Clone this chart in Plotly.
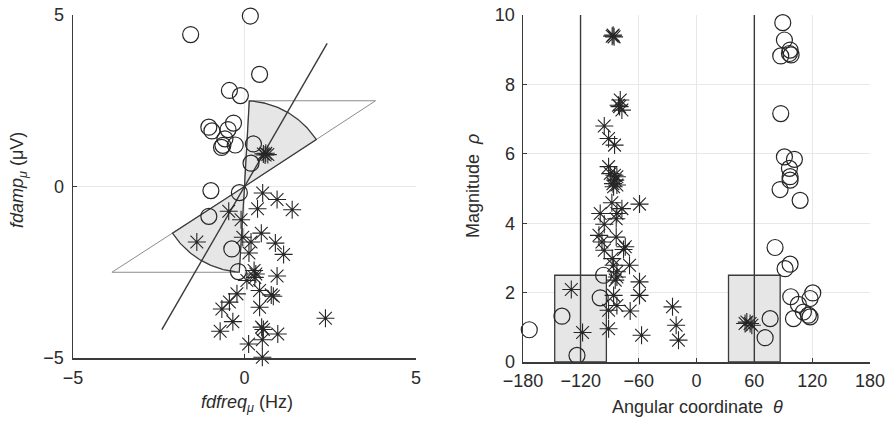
import numpy as np
import plotly.graph_objects as go

# ---------------- data ----------------
# Left panel: cartesian features (fdfreq, fdamp)
circ_x = [0.17, -1.57, 0.44, -0.44, -0.12, -1.04, -0.95, -0.32, -0.48, -0.57,
          -0.63, -0.67, -0.27, 0.26, 0.19, -0.98, -0.15, -1.04, -0.37, -0.18]
circ_y = [4.97, 4.43, 3.27, 2.80, 2.65, 1.73, 1.62, 1.85, 1.66, 1.39,
          1.20, 1.14, 1.21, 1.24, 0.68, -0.12, -0.18, -0.87, -1.82, -2.48]

star_x = [0.62, 0.60, 0.55, 0.68,
          0.53, 0.95, 1.39, 0.38, -0.46, -0.10, 0.49, -1.39, -0.05, 0.19,
          0.90, 0.13, 1.14, 0.28, 0.33, 0.30, 0.95, 0.07, -0.22, 0.44,
          0.78, 0.84, -0.44, -0.66, 0.44, 2.36, -0.34, -0.71, 0.50, 0.55,
          0.97, 0.12, 0.52, 0.52]
star_y = [0.97, 0.92, 0.95, 0.93,
          -0.19, -0.38, -0.68, -0.65, -0.72, -0.97, -1.36, -1.62, -1.48, -1.62,
          -1.65, -1.94, -1.98, -2.45, -2.55, -2.65, -2.61, -2.74, -3.13, -3.03,
          -3.16, -3.20, -3.37, -3.57, -3.52, -3.84, -3.94, -4.22, -4.10, -4.17,
          -4.30, -4.59, -4.47, -4.98]

# Right panel: polar features (theta in degrees, rho)
circ_theta = [89.5, 91.2, 97.1, 96.4, 87.4, 98.1, 87.4, 91.2, 101.6, 96.4,
              97.1, 97.1, 86.7, 107.5, 81.5, 97.1, 91.9, 97.8, 120.6, 117.8,
              105.7, 110.9, 116.1, 117.8, 100.6, 76.4, 71.2, -96.4, -99.9, -139.6,
              -173.5, -124.0]
circ_rho = [9.78, 9.28, 8.99, 8.89, 8.82, 8.85, 7.16, 5.91, 5.84, 5.58,
            5.34, 5.24, 4.97, 4.66, 3.30, 2.82, 2.69, 1.88, 1.99, 1.83,
            1.66, 1.44, 1.35, 1.30, 1.25, 1.25, 0.70, 2.50, 1.85, 1.32,
            0.93, 0.19]

star_theta = [-87.5, -85.5, -86.5, -79.1, -80.9, -77.4, -79.8, -95.7, -91.2, -85.0,
              -91.2, -89.5, -85.1, -82.6, -84.3, -86.7, -82.6, -86.0, -87.8, -59.1,
              -77.4, -82.6, -99.9, -83.3, -95.7, -101.2, -98.1, -83.3, -73.9, -75.7,
              -95.7, -87.4, -69.5, -86.0, -82.6, -82.6, -84.3, -59.1, -59.1, -86.0,
              -82.6, -91.2, -68.8, -91.2, -129.9, -118.2, -57.0, -24.9, -21.1, -18.7,
              52.2, 55.6, 57.4, 50.4]
star_rho = [9.39, 9.37, 9.42, 7.55, 7.40, 7.26, 7.36, 6.80, 6.44, 6.25,
            5.63, 5.43, 5.38, 5.34, 5.24, 5.14, 5.10, 5.05, 4.59, 4.55,
            4.42, 4.28, 4.28, 4.13, 3.97, 3.65, 3.46, 3.60, 3.32, 3.24,
            3.22, 2.98, 2.79, 2.79, 2.60, 2.45, 2.36, 2.31, 1.92, 1.92,
            1.63, 1.49, 1.47, 0.96, 2.09, 0.85, 0.77, 1.59, 1.06, 0.63,
            1.15, 1.11, 1.06, 1.11]

# Sector (class) parameters
sector_mean = [60.0, -120.3]     # degrees
sector_half = [26.8, 26.8]       # degrees
sector_radius = 2.5
mean_line_len = 4.82

x_ticks_left = [-5, 0, 5]
y_ticks_left = [-5, 0, 5]
x_ticks_right = [-180, -120, -60, 0, 60, 120, 180]
y_ticks_right = [0, 2, 4, 6, 8, 10]

# ---------------- styles ----------------
DARK = "#3a3a3a"
MARK = "#262626"
FILL = "#e6e6e6"
TRI = "#8c8c8c"
GRID = "#e8e8e8"
FONT = "Arial, Liberation Sans, sans-serif"
FS = 18

fig = go.Figure()

# ---- left panel: triangles, sectors, mean line ----
for m, h in zip(sector_mean, sector_half):
    a1, a2 = np.radians(m - h), np.radians(m + h)
    level = sector_radius * np.sign(np.sin(np.radians(m)))
    p1 = (level / np.tan(a1), level)
    p2 = (level / np.tan(a2), level)
    fig.add_trace(go.Scatter(x=[0, p1[0], p2[0], 0], y=[0, p1[1], p2[1], 0],
                             mode="lines", line=dict(color=TRI, width=1),
                             xaxis="x", yaxis="y", hoverinfo="skip"))
    ang = np.linspace(a1, a2, 60)
    sx = np.concatenate([[0], sector_radius * np.cos(ang), [0]])
    sy = np.concatenate([[0], sector_radius * np.sin(ang), [0]])
    fig.add_trace(go.Scatter(x=sx, y=sy, mode="lines", fill="toself",
                             fillcolor=FILL, line=dict(color=DARK, width=1.3),
                             xaxis="x", yaxis="y", hoverinfo="skip"))

mr = np.radians(sector_mean[0])
fig.add_trace(go.Scatter(x=[-mean_line_len * np.cos(mr), mean_line_len * np.cos(mr)],
                         y=[-mean_line_len * np.sin(mr), mean_line_len * np.sin(mr)],
                         mode="lines", line=dict(color=DARK, width=1.4),
                         xaxis="x", yaxis="y", hoverinfo="skip"))

circ_marker = dict(symbol="circle-open", size=16, line=dict(color=MARK, width=1.2), color=MARK)
star_marker = dict(symbol="asterisk-open", size=15, line=dict(color=MARK, width=1.1), color=MARK)

fig.add_trace(go.Scatter(x=circ_x, y=circ_y, mode="markers", cliponaxis=False,
                         marker=circ_marker, xaxis="x", yaxis="y"))
fig.add_trace(go.Scatter(x=star_x, y=star_y, mode="markers", cliponaxis=False,
                         marker=star_marker, xaxis="x", yaxis="y"))

# ---- right panel: boxes, mean lines ----
for m, h in zip(sector_mean, sector_half):
    lo, hi = m - h, m + h
    fig.add_trace(go.Scatter(x=[lo, hi, hi, lo, lo],
                             y=[0, 0, sector_radius, sector_radius, 0],
                             mode="lines", fill="toself", fillcolor=FILL,
                             line=dict(color=DARK, width=1.3),
                             xaxis="x2", yaxis="y2", hoverinfo="skip"))
for m in sector_mean:
    fig.add_trace(go.Scatter(x=[m, m], y=[y_ticks_right[0], y_ticks_right[-1]],
                             mode="lines", line=dict(color=DARK, width=1.4),
                             xaxis="x2", yaxis="y2", hoverinfo="skip"))

fig.add_trace(go.Scatter(x=circ_theta, y=circ_rho, mode="markers", cliponaxis=False,
                         marker=circ_marker, xaxis="x2", yaxis="y2"))
fig.add_trace(go.Scatter(x=star_theta, y=star_rho, mode="markers", cliponaxis=False,
                         marker=star_marker, xaxis="x2", yaxis="y2"))

# The page body margin is removed (post_script), so figure pixels = window pixels.
W, H = 886, 427


def fx(px):
    return px / W


def fy(py):
    return 1 - py / H


axis_common = dict(showline=True, linecolor=DARK, linewidth=1.5, mirror=False,
                   showgrid=True, gridcolor=GRID, gridwidth=1, zeroline=False,
                   ticks="inside", ticklen=4, tickcolor=DARK, tickwidth=1,
                   tickfont=dict(family=FONT, size=FS, color="#2b2b2b"),
                   ticklabeloverflow="allow",
                   tickmode="array", fixedrange=True, automargin=False)

fig.update_layout(
    width=W, height=H, margin=dict(l=0, r=0, t=0, b=0, pad=0, autoexpand=False),
    paper_bgcolor="white", plot_bgcolor="white", showlegend=False,
    xaxis=dict(domain=[fx(73), fx(416)], range=[-5, 5], tickvals=x_ticks_left,
               anchor="y", ticklabelstandoff=3, **axis_common),
    yaxis=dict(domain=[fy(358), fy(15)], range=[-5, 5], tickvals=y_ticks_left,
               anchor="x", ticklabelstandoff=4, **axis_common),
    xaxis2=dict(domain=[fx(523), fx(870)], range=[-180, 180], tickvals=x_ticks_right,
                anchor="y2", ticklabelstandoff=2, **axis_common),
    yaxis2=dict(domain=[fy(362), fy(15)], range=[0, 10], tickvals=y_ticks_right,
                anchor="x2", ticklabelstandoff=3, **axis_common),
)

tf = dict(family=FONT, size=FS, color="#2b2b2b")
ann = dict(xref="paper", yref="paper", showarrow=False, font=tf,
           xanchor="center", yanchor="middle")
fig.add_annotation(text="<i>fdfreq</i><sub><i>μ</i></sub> (Hz)", x=fx(247), y=fy(403), **ann)
fig.add_annotation(text="<i>fdamp</i><sub><i>μ</i></sub> (μV)", x=fx(18), y=fy(180),
                   textangle=-90, **ann)
fig.add_annotation(text="Angular coordinate  <i>θ</i>", x=fx(697), y=fy(407), **ann)
fig.add_annotation(text="Magnitude  <i>ρ</i>", x=fx(473), y=fy(186), textangle=-90, **ann)

fig.write_html(
    "out.html",
    config={"displayModeBar": False, "staticPlot": True},
    post_script="document.body.style.margin='0';document.body.style.overflow='hidden';",
)
